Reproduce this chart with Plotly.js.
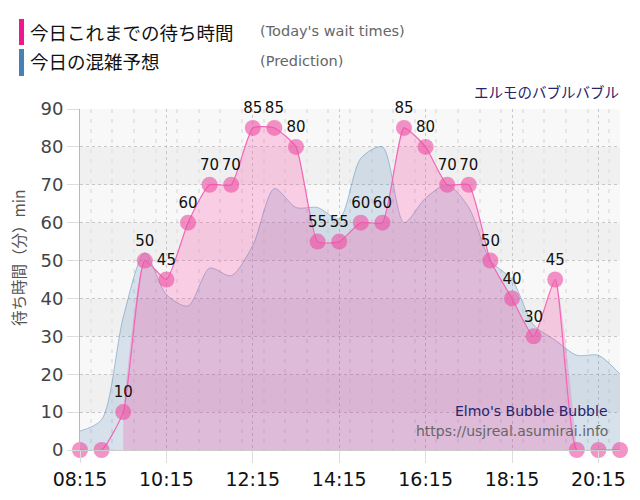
<!DOCTYPE html>
<html>
<head>
<meta charset="utf-8">
<script src="https://cdn.plot.ly/plotly-3.0.1.min.js"></script>
<style>html,body{margin:0;padding:0;background:#fff;}#chart{width:640px;height:500px;}</style>
</head>
<body>
<div id="chart"></div>
<script>
// ---- data ----
var times = ['08:15','08:45','09:15','09:45','10:15','10:45','11:15','11:45','12:15','12:45','13:15','13:45','14:15','14:45','15:15','15:45','16:15','16:45','17:15','17:45','18:15','18:45','19:15','19:45','20:15','20:45'];
var todayWait = [0,0,10,50,45,60,70,70,85,85,80,55,55,60,60,85,80,70,70,50,40,30,45,0,0,0];
var prediction = [5,8,35,52,41,38,48,46,54,69,64,64,61,77,80,60,66.5,70,64,50,45,33,29,25,25,20];
var yTicks = [0,10,20,30,40,50,60,70,80,90];
var legendLabels = ['今日これまでの待ち時間','今日の混雑予想'];
var legendSub = ["(Today's wait times)", '(Prediction)'];
var yTitle = '待ち時間（分）min';

var DAY = '2000-01-01 ';
var xs = times.map(function(t){return DAY + t;});

// pink fill only spans from first non-zero point to point after last non-zero
var first = todayWait.findIndex(function(v){return v>0;});
var last = -1; todayWait.forEach(function(v,i){ if(v>0) last=i; });
var fillEnd = Math.min(last+1, todayWait.length-1);
var fillX = xs.slice(first, fillEnd+1);
var fillY = todayWait.slice(first, fillEnd+1);

var JP = '"Noto Sans CJK JP", "DejaVu Sans", sans-serif';
var LAT = '"DejaVu Sans", Verdana, sans-serif';

// plot area in pixels
var L = 80, R = 20, T = 109, B = 50, W = 640, H = 500;
var pw = W - L - R, ph = H - T - B;
function px(x){ return (x - L)/pw; }
function py(y){ return (H - B - y)/ph; }

var traces = [
  {
    x: xs, y: prediction, type: 'scatter', mode: 'lines',
    line: {color: 'rgba(70,130,180,0.45)', width: 1, shape: 'spline', smoothing: 0.8},
    fill: 'tozeroy', fillcolor: 'rgba(70,130,180,0.19)',
    hoverinfo: 'skip', showlegend: false
  },
  {
    x: fillX, y: fillY, type: 'scatter', mode: 'lines',
    line: {color: 'rgba(0,0,0,0)', width: 0, shape: 'spline', smoothing: 0.5},
    fill: 'tozeroy', fillcolor: 'rgba(255,45,150,0.21)',
    hoverinfo: 'skip', showlegend: false
  },
  {
    x: xs, y: todayWait, type: 'scatter', mode: 'lines+markers+text',
    line: {color: '#f266b6', width: 1.2, shape: 'spline', smoothing: 0.5},
    marker: {size: 16, color: 'rgba(238,80,165,0.62)', line: {width: 0}},
    text: todayWait.map(function(v){ return v > 0 ? String(v) : ''; }),
    textposition: 'top center',
    textfont: {family: LAT, size: 15, color: '#111'},
    cliponaxis: false,
    hoverinfo: 'skip', showlegend: false
  }
];

var shapes = [];
for (var i = 0; i < yTicks.length - 1; i++) {
  if (i % 2 === 1) {
    shapes.push({type: 'rect', xref: 'paper', yref: 'y', x0: 0, x1: 1, y0: yTicks[i], y1: yTicks[i+1],
      fillcolor: '#f0f0f0', line: {width: 0}, layer: 'below'});
  }
}
// legend color bars
shapes.push({type:'rect', xref:'paper', yref:'paper', x0:px(19), x1:px(24), y0:py(45), y1:py(19), fillcolor:'#f0168c', line:{width:0}});
shapes.push({type:'rect', xref:'paper', yref:'paper', x0:px(19), x1:px(24), y0:py(76), y1:py(49), fillcolor:'#4682b4', line:{width:0}});

var annotations = [
  {xref:'paper', yref:'paper', x:px(28), y:py(32), xanchor:'left', yanchor:'middle', showarrow:false,
   text: legendLabels[0], font:{family: JP, size: 18.5, color:'#111'}},
  {xref:'paper', yref:'paper', x:px(28), y:py(61), xanchor:'left', yanchor:'middle', showarrow:false,
   text: legendLabels[1], font:{family: JP, size: 18.5, color:'#111'}},
  {xref:'paper', yref:'paper', x:px(258), y:py(31), xanchor:'left', yanchor:'middle', showarrow:false,
   text: legendSub[0], font:{family: LAT, size: 14.5, color:'#666'}},
  {xref:'paper', yref:'paper', x:px(258), y:py(61), xanchor:'left', yanchor:'middle', showarrow:false,
   text: legendSub[1], font:{family: LAT, size: 14.5, color:'#666'}},
  {xref:'paper', yref:'paper', x:px(621), y:py(91), xanchor:'right', yanchor:'middle', showarrow:false,
   text: 'エルモのバブルバブル', font:{family: JP, size: 14.5, color:'#25236e'}},
  {xref:'paper', yref:'paper', x:px(610), y:py(411), xanchor:'right', yanchor:'middle', showarrow:false,
   text: "Elmo's Bubble Bubble", font:{family: LAT, size: 14, color:'#25236e'}},
  {xref:'paper', yref:'paper', x:px(610), y:py(431), xanchor:'right', yanchor:'middle', showarrow:false,
   text: 'https://usjreal.asumirai.info', font:{family: LAT, size: 14, color:'#666'}},
  {xref:'paper', yref:'paper', x:px(18), y:py(258), xanchor:'center', yanchor:'middle', showarrow:false,
   textangle: -90, text: yTitle, font:{family: JP, size: 15.5, color:'#555'}}
];

var layout = {
  width: W, height: H,
  margin: {l: L, r: R, t: T, b: B, pad: 0},
  paper_bgcolor: '#ffffff',
  plot_bgcolor: '#f8f8f8',
  showlegend: false,
  hovermode: false,
  font: {family: LAT},
  xaxis: {
    type: 'date',
    range: [xs[0], xs[xs.length-1]],
    tick0: xs[0], dtick: 2*3600*1000,
    tickformat: '%H:%M',
    tickfont: {family: LAT, size: 19, color: '#111'},
    ticks: 'outside', ticklen: 12, tickcolor: '#dddddd', tickwidth: 1,
    showgrid: true, gridcolor: '#c8c8c8', griddash: 'dot', gridwidth: 1,
    minor: {dtick: 30*60*1000, showgrid: true, gridcolor: '#e6e6e6', griddash: '4px,6px', gridwidth: 2},
    showline: true, linecolor: '#cccccc', linewidth: 1,
    zeroline: false, fixedrange: true
  },
  yaxis: {
    range: [yTicks[0], yTicks[yTicks.length-1]],
    tickvals: yTicks,
    tickfont: {family: LAT, size: 18, color: '#444'},
    ticks: 'outside', ticklen: 12, tickcolor: '#dddddd', tickwidth: 1,
    showgrid: true, gridcolor: '#c8c8c8', griddash: 'dot', gridwidth: 1,
    showline: true, linecolor: '#b8b8b8', linewidth: 1,
    zeroline: false, fixedrange: true
  },
  shapes: shapes,
  annotations: annotations
};

Plotly.newPlot('chart', traces, layout, {displayModeBar: false, staticPlot: true});
</script>
</body>
</html>
